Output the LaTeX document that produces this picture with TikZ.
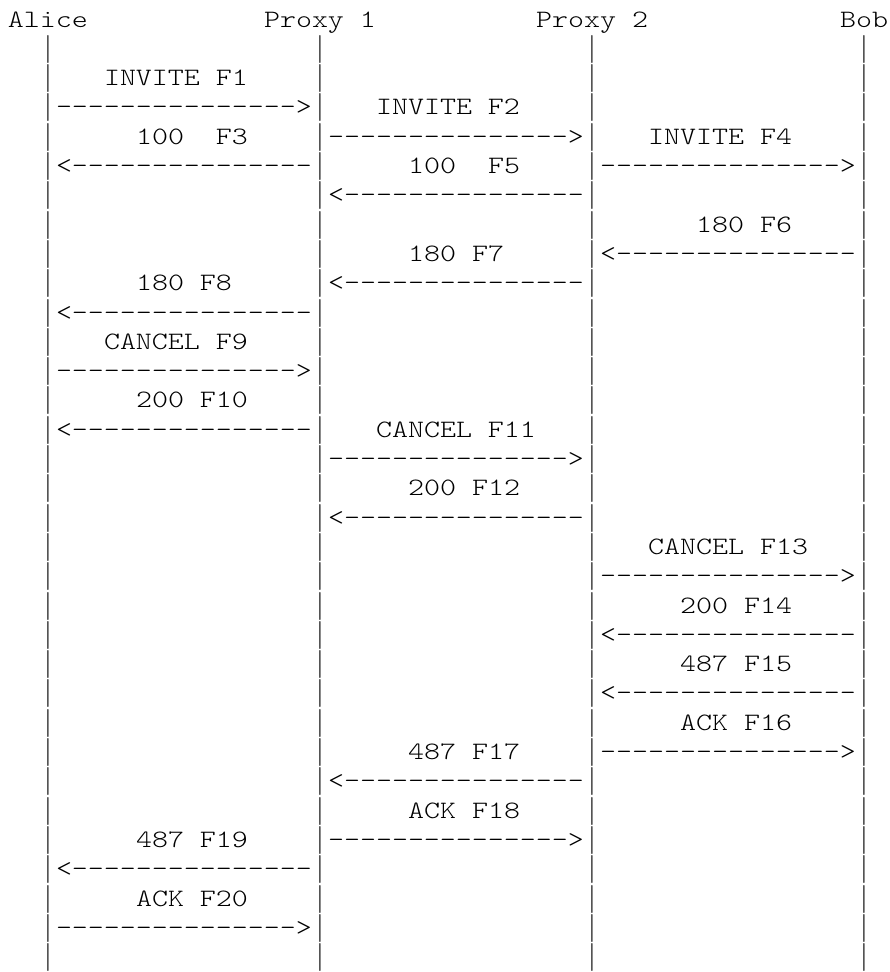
\documentclass[tikz,border=0pt]{standalone}
\usepackage{fontspec}
\setmonofont{Latin Modern Mono Light}[FakeStretch=1.219]
\tikzset{
  ascii/.style={inner sep=0pt, outer sep=0pt, anchor=base west,
    font=\ttfamily\fontsize{25}{29.3}\selectfont, text=black},
  lifebar/.style={inner sep=0pt, outer sep=0pt, anchor=base,
    font=\rmfamily\fontsize{28}{29.3}\selectfont, text=black}
}
% row / column to position (base west of a character cell)
\newcommand{\cpos}[2]{({8pt+(#2)*16pt},{-27pt-(#1)*29.3pt})}
% base centre of a character cell
\newcommand{\bpos}[2]{({16pt+(#2)*16pt},{-27pt-(#1)*29.3pt})}
\begin{document}
\begin{tikzpicture}
\fill[white] (0,0) rectangle (889pt,-972pt);
\useasboundingbox (0,0) rectangle (889pt,-972pt);
% header
\node[ascii] (alice) at \cpos{0}{0} {Alice};
\node[ascii] (proxy1) at \cpos{0}{16} {Proxy 1};
\node[ascii] (proxy2) at \cpos{0}{33} {Proxy 2};
\node[ascii] (bob) at \cpos{0}{52} {Bob};
% lifelines (one bar character per text row)
\foreach \r in {1,...,32}
  \foreach \c in {2,19,36,53}
    \node[lifebar] (bar-\r-\c) at \bpos{\r}{\c} {|};
% right arrows
\foreach \r/\s in {3/0,4/1,5/2,12/0,15/1,19/2,25/2,28/1,31/0}
  \node[ascii] (ar-\r-\s) at \cpos{\r}{3+17*\s} {--------------->};
% left arrows
\foreach \r/\s in {5/0,6/1,8/2,9/1,10/0,14/0,17/1,21/2,23/2,26/1,29/0}
  \node[ascii] (al-\r-\s) at \cpos{\r}{3+17*\s} {<---------------};
% labels
\foreach \r/\c/\t in {2/6/INVITE F1, 3/23/INVITE F2, 4/8/100~~F3, 4/40/INVITE F4,
  5/25/100~~F5, 7/43/180 F6, 8/25/180 F7, 9/8/180 F8, 11/6/CANCEL F9,
  13/8/200 F10, 14/23/CANCEL F11, 16/25/200 F12, 18/40/CANCEL F13,
  20/42/200 F14, 22/42/487 F15, 24/42/ACK F16, 25/25/487 F17,
  27/25/ACK F18, 28/8/487 F19, 30/8/ACK F20}
  \node[ascii] (lb-\r-\c) at \cpos{\r}{\c} {\t};
\end{tikzpicture}
\end{document}
